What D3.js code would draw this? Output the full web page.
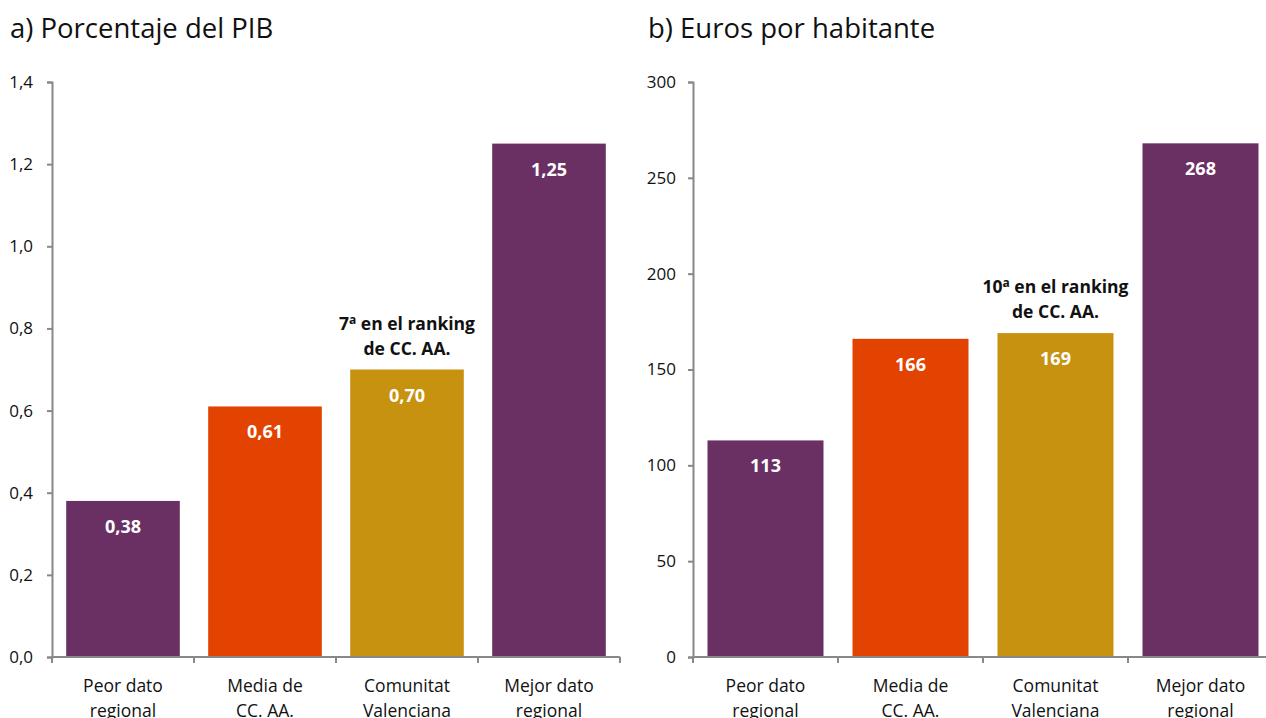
<!DOCTYPE html>
<html>
<head>
<meta charset="utf-8">
<script src="https://cdn.jsdelivr.net/npm/d3@7"></script>
<style>
  body { margin: 0; background: #fff; }
  svg text { font-family: "Open Sans", "Noto Sans", sans-serif; }
</style>
</head>
<body>
<div id="vis"></div>
<script>
// categories shared by both panels
const categories = ["Peor dato|regional", "Media de|CC. AA.", "Comunitat|Valenciana", "Mejor dato|regional"];
const barColors = ["#6a3064", "#e24300", "#c89211", "#6a3064"];

// a) Porcentaje del PIB
const pibValues = [0.38, 0.61, 0.70, 1.25];
const pibTicks = [0, 0.2, 0.4, 0.6, 0.8, 1.0, 1.2, 1.4];

// b) Euros por habitante
const eurValues = [113, 166, 169, 268];
const eurTicks = [0, 50, 100, 150, 200, 250, 300];

const W = 1266, H = 718;
const svg = d3.select("#vis").append("svg")
  .attr("width", W).attr("height", H);

const fmtComma = (dec) => (v) => d3.format("." + dec + "f")(v).replace(".", ",");

function panel(opts) {
  const g = svg.append("g");
  const x = d3.scaleBand()
    .domain(categories)
    .range([opts.x0, opts.x1])
    .paddingInner(0.2).paddingOuter(0.1);
  const y = d3.scaleLinear()
    .domain([0, opts.max])
    .range([657, 82]);

  // title
  g.append("text")
    .attr("x", opts.titleX).attr("y", 38)
    .attr("font-size", 27.5).attr("fill", "#111")
    .text(opts.title);

  // bars
  g.selectAll("rect.bar")
    .data(opts.values)
    .enter().append("rect")
    .attr("class", "bar")
    .attr("x", (d, i) => x(categories[i]))
    .attr("width", x.bandwidth())
    .attr("y", d => y(d))
    .attr("height", d => y(0) - y(d))
    .attr("fill", (d, i) => barColors[i]);

  // value labels
  g.selectAll("text.val")
    .data(opts.values)
    .enter().append("text")
    .attr("class", "val")
    .attr("x", (d, i) => x(categories[i]) + x.bandwidth() / 2)
    .attr("y", d => y(d) + 32)
    .attr("text-anchor", "middle")
    .attr("font-size", 18).attr("font-weight", "bold").attr("fill", "#fff")
    .text(d => opts.fmt(d));

  // y axis
  const yAxis = d3.axisLeft(y)
    .tickValues(opts.ticks)
    .tickSize(5)
    .tickSizeOuter(5)
    .tickFormat(opts.tickFmt);
  const ya = g.append("g")
    .attr("transform", "translate(" + opts.x0 + ",0)")
    .call(yAxis);
  ya.select(".domain").attr("stroke", "#888").attr("stroke-width", 2);
  ya.selectAll(".tick line").attr("stroke", "#888").attr("stroke-width", 2);
  ya.selectAll(".tick text")
    .attr("font-size", 17).attr("fill", "#111")
    .attr("x", -opts.labelGap)
    .style("font-family", "'Open Sans', sans-serif");

  // x axis with ticks at band boundaries
  const xa = g.append("g");
  xa.append("line")
    .attr("x1", opts.x0).attr("x2", opts.x1)
    .attr("y1", y(0)).attr("y2", y(0))
    .attr("stroke", "#888").attr("stroke-width", 2);
  const step = x.step();
  const first = x(categories[0]) - x.paddingInner() * step / 2;
  const bounds = d3.range(categories.length + 1).map(i => first + i * step);
  xa.selectAll("line.tk")
    .data(bounds)
    .enter().append("line")
    .attr("class", "tk")
    .attr("x1", d => d).attr("x2", d => d)
    .attr("y1", y(0)).attr("y2", y(0) + 6)
    .attr("stroke", "#888").attr("stroke-width", 2);

  // category labels
  const lab = g.selectAll("text.cat")
    .data(categories)
    .enter().append("text")
    .attr("class", "cat")
    .attr("x", d => x(d) + x.bandwidth() / 2)
    .attr("y", 692)
    .attr("text-anchor", "middle")
    .attr("font-size", 17.5).attr("fill", "#111");
  lab.selectAll("tspan")
    .data(d => d.split("|"))
    .enter().append("tspan")
    .attr("x", function() { return d3.select(this.parentNode).attr("x"); })
    .attr("dy", (d, i) => i === 0 ? 0 : 25)
    .text(d => d);

  // ranking annotation over Comunitat Valenciana
  const cv = categories[2];
  const ann = g.append("text")
    .attr("x", x(cv) + x.bandwidth() / 2)
    .attr("y", y(opts.values[2]) - 40)
    .attr("text-anchor", "middle")
    .attr("font-size", 17.5).attr("font-weight", "bold").attr("fill", "#111");
  ann.append("tspan").text(opts.rank);
  ann.append("tspan").attr("font-size", 12).attr("dy", -6).text("a");
  ann.append("tspan").attr("dy", 6).text(" en el ranking");
  ann.append("tspan")
    .attr("x", x(cv) + x.bandwidth() / 2).attr("dy", 25)
    .text("de CC. AA.");
}

panel({
  title: "a) Porcentaje del PIB", titleX: 10,
  x0: 52, x1: 620, max: 1.4,
  values: pibValues, ticks: pibTicks,
  tickFmt: fmtComma(1), fmt: fmtComma(2),
  labelGap: 19, rank: "7"
});

panel({
  title: "b) Euros por habitante", titleX: 648,
  x0: 693, x1: 1273, max: 300,
  values: eurValues, ticks: eurTicks,
  tickFmt: d3.format("d"), fmt: d3.format("d"),
  labelGap: 17, rank: "10"
});
</script>
</body>
</html>
